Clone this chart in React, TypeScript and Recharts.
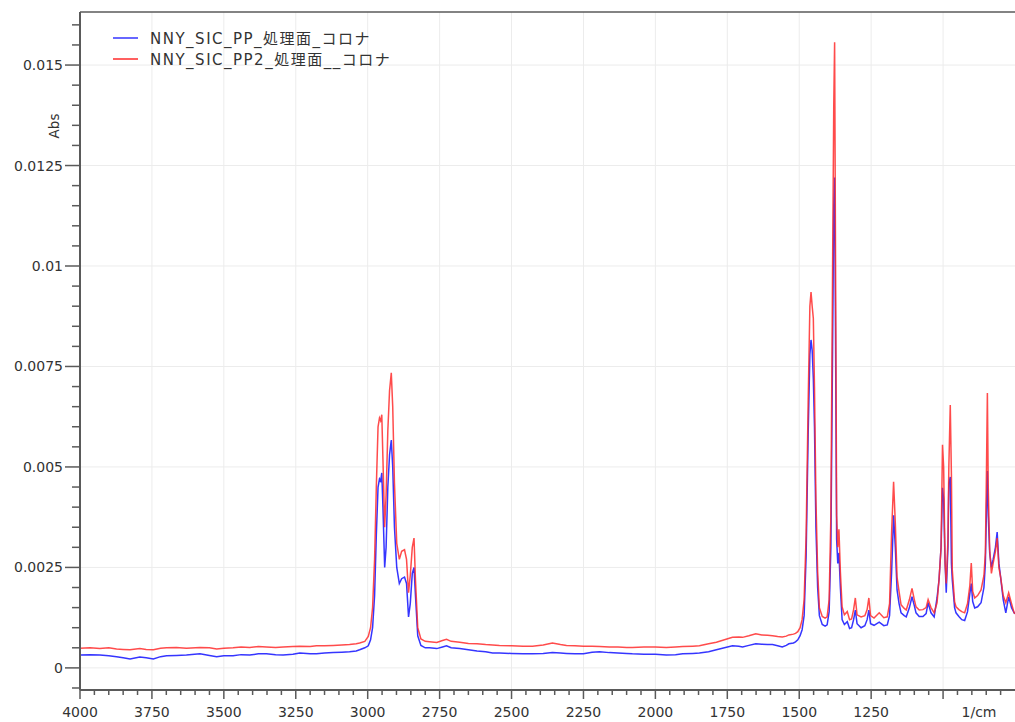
import { LineChart, Line, XAxis, YAxis, ReferenceLine, Legend } from "recharts";

const wavenumbers = [
  4000, 3965, 3931, 3900, 3873, 3850, 3826, 3792, 3770, 3745, 3720, 3699, 3665, 3630, 3583, 3550,
  3525, 3500, 3468, 3440, 3410, 3380, 3352, 3320, 3294, 3260, 3236, 3200, 3178, 3150, 3120, 3090,
  3063, 3040, 3028, 3010, 2998, 2990, 2983, 2976, 2970, 2964, 2959, 2955, 2951, 2947, 2941, 2936,
  2930, 2924, 2918, 2913, 2907, 2899, 2890, 2882, 2872, 2865, 2858, 2852, 2845, 2839, 2834, 2826,
  2815, 2800, 2785, 2760, 2740, 2726, 2710, 2680, 2650, 2620, 2590, 2566, 2542, 2500, 2460, 2427,
  2390, 2358, 2330, 2309, 2280, 2250, 2220, 2194, 2160, 2130, 2100, 2080, 2040, 2000, 1962, 1930,
  1905, 1870, 1847, 1815, 1788, 1760, 1732, 1710, 1697, 1675, 1651, 1630, 1610, 1593, 1575, 1559,
  1545, 1536, 1520, 1513, 1505, 1497, 1490, 1483, 1476, 1469, 1463, 1459, 1455, 1451, 1447, 1442,
  1436, 1430, 1420, 1410, 1403, 1396, 1390, 1384, 1380, 1377, 1374, 1370, 1366, 1362, 1357, 1351,
  1343, 1333, 1325, 1318, 1311, 1305, 1299, 1285, 1272, 1264, 1258, 1252, 1240, 1222, 1206, 1194,
  1186, 1179, 1172, 1166, 1160, 1153, 1146, 1135, 1128, 1117, 1108, 1100, 1094, 1083, 1070, 1059,
  1052, 1042, 1031, 1021, 1014, 1007, 1002, 998, 993, 989, 983, 980, 975, 971, 968, 960,
  955, 945, 935, 925, 915, 907, 902, 897, 890, 880, 868, 858, 853, 849, 846, 843,
  838, 832, 826, 818, 812, 806, 800, 791, 782, 772, 762, 753, 750,
];

// NNY_SIC_PP_処理面_コロナ (blue)
const ppAbs = [
  0.00032, 0.00033, 0.00032, 0.0003, 0.00028, 0.00025, 0.00022, 0.00027, 0.00025, 0.00022, 0.00028, 0.0003, 0.00031, 0.00032, 0.00035, 0.00031,
  0.00028, 0.0003, 0.0003, 0.00033, 0.00032, 0.00035, 0.00035, 0.00033, 0.00032, 0.00034, 0.00037, 0.00035, 0.00035, 0.00037, 0.00038, 0.00039,
  0.0004, 0.00042, 0.00045, 0.0005, 0.00055, 0.0007, 0.001, 0.0018, 0.0033, 0.0045, 0.0047, 0.00465, 0.00485, 0.004, 0.0025, 0.003,
  0.0045, 0.0053, 0.00567, 0.005, 0.0035, 0.0025, 0.0021, 0.00222, 0.00226, 0.0021, 0.00127, 0.0016, 0.00235, 0.0025, 0.0018, 0.0008,
  0.00056, 0.0005, 0.0005, 0.00048, 0.00052, 0.00055, 0.0005, 0.00048, 0.00045, 0.00042, 0.0004, 0.00037, 0.00037, 0.00036, 0.00035, 0.00035,
  0.00036, 0.00038, 0.00037, 0.00036, 0.00035, 0.00035, 0.00039, 0.0004, 0.00038, 0.00037, 0.00036, 0.00035, 0.00034, 0.00034, 0.00032, 0.00033,
  0.00035, 0.00036, 0.00037, 0.0004, 0.00045, 0.0005, 0.00055, 0.00054, 0.00052, 0.00056, 0.0006, 0.00059, 0.00058, 0.00058, 0.00055, 0.00052,
  0.00056, 0.0006, 0.00062, 0.00065, 0.0007, 0.0008, 0.00095, 0.0013, 0.0028, 0.0058, 0.0078, 0.00816, 0.0079, 0.0072, 0.006, 0.0035,
  0.002, 0.0013, 0.00108, 0.00104, 0.00107, 0.0014, 0.003, 0.008, 0.0115, 0.0122, 0.0085, 0.0032, 0.0026, 0.00286, 0.002, 0.0012,
  0.00108, 0.00115, 0.00098, 0.001, 0.0012, 0.00144, 0.0011, 0.001, 0.00105, 0.0012, 0.00144, 0.0011, 0.00106, 0.00114, 0.00105, 0.00107,
  0.0013, 0.00236, 0.0038, 0.003, 0.00194, 0.0016, 0.00137, 0.0013, 0.00127, 0.0015, 0.00177, 0.00155, 0.00137, 0.00128, 0.00128, 0.00135,
  0.00162, 0.00137, 0.00127, 0.00174, 0.0022, 0.003, 0.00448, 0.0042, 0.0026, 0.00187, 0.003, 0.0046, 0.00475, 0.0026, 0.00219, 0.0015,
  0.00137, 0.00128, 0.0012, 0.00118, 0.0014, 0.00185, 0.0021, 0.00165, 0.00149, 0.00152, 0.00162, 0.002, 0.0026, 0.004, 0.0049, 0.0038,
  0.00286, 0.0025, 0.0027, 0.003, 0.00338, 0.0026, 0.00226, 0.0017, 0.00137, 0.00177, 0.0015, 0.00137, 0.00135,
];

// NNY_SIC_PP2_処理面__コロナ (red)
const pp2Abs = [
  0.00049, 0.0005, 0.00048, 0.0005, 0.00047, 0.00046, 0.00045, 0.00048, 0.00046, 0.00045, 0.00049, 0.0005, 0.00051, 0.00049, 0.00051, 0.0005,
  0.00047, 0.00049, 0.0005, 0.00052, 0.00051, 0.00053, 0.00052, 0.00051, 0.00052, 0.00053, 0.00054, 0.00053, 0.00055, 0.00055, 0.00056, 0.00057,
  0.00058, 0.0006, 0.00062, 0.00066, 0.00078, 0.001, 0.0015, 0.0027, 0.0045, 0.006, 0.00622, 0.00615, 0.0063, 0.0052, 0.0035, 0.0043,
  0.0059, 0.0069, 0.00734, 0.0065, 0.0046, 0.0031, 0.0027, 0.0029, 0.00294, 0.0027, 0.00187, 0.0023, 0.003, 0.00323, 0.0022, 0.001,
  0.00072, 0.00066, 0.00065, 0.00063, 0.00068, 0.00071, 0.00066, 0.00064, 0.00061, 0.0006, 0.00058, 0.00057, 0.00056, 0.00055, 0.00054, 0.00054,
  0.00057, 0.00062, 0.00058, 0.00056, 0.00055, 0.00054, 0.00054, 0.00053, 0.00052, 0.00052, 0.00051, 0.00051, 0.00052, 0.00052, 0.00051, 0.00052,
  0.00053, 0.00054, 0.00055, 0.0006, 0.00064, 0.0007, 0.00076, 0.00077, 0.00076, 0.0008, 0.00085, 0.00082, 0.00081, 0.0008, 0.00078, 0.00077,
  0.00079, 0.00082, 0.00084, 0.00086, 0.0009, 0.001, 0.0012, 0.0017, 0.0033, 0.0066, 0.009, 0.00935, 0.009, 0.0087, 0.007, 0.0042,
  0.0024, 0.0015, 0.00128, 0.00124, 0.00127, 0.0017, 0.0038, 0.01, 0.014, 0.01557, 0.0105, 0.0038, 0.003, 0.00345, 0.0024, 0.00152,
  0.00132, 0.0014, 0.0012, 0.00122, 0.00145, 0.00174, 0.00132, 0.00127, 0.0013, 0.00145, 0.00174, 0.0013, 0.00124, 0.00137, 0.00125, 0.00127,
  0.0016, 0.00336, 0.00463, 0.0036, 0.00226, 0.0019, 0.00157, 0.00148, 0.00144, 0.0017, 0.00198, 0.0017, 0.00152, 0.00144, 0.00145, 0.0015,
  0.0017, 0.0015, 0.00137, 0.00162, 0.0022, 0.003, 0.00555, 0.005, 0.0026, 0.0021, 0.0032, 0.005, 0.00654, 0.0048, 0.00244, 0.00165,
  0.00152, 0.00145, 0.0014, 0.00137, 0.0016, 0.00205, 0.00261, 0.0019, 0.00174, 0.0018, 0.00194, 0.0023, 0.00286, 0.005, 0.00684, 0.0045,
  0.00294, 0.00235, 0.0026, 0.0029, 0.00323, 0.0025, 0.00226, 0.0018, 0.00162, 0.00187, 0.0016, 0.00137, 0.00135,
];

const seriesNames = ["NNY_SIC_PP_処理面_コロナ", "NNY_SIC_PP2_処理面__コロナ"];
const seriesColors = ["#3535ff", "#ff2b2b"];

const xMajorTicks = [4000, 3750, 3500, 3250, 3000, 2750, 2500, 2250, 2000, 1750, 1500, 1250, 1000];
const xTickLabels = ["4000", "3750", "3500", "3250", "3000", "2750", "2500", "2250", "2000", "1750", "1500", "1250", ""];
const yMajorTicks = [0, 0.0025, 0.005, 0.0075, 0.01, 0.0125, 0.015];
const yTickLabels = ["0", "0.0025", "0.005", "0.0075", "0.01", "0.0125", "0.015"];

const xDomain = [750, 4000];
const yDomain = [-0.00055, 0.01632];

// minor ticks every 50 1/cm and every 0.0005 Abs
const xTicks = Array.from({ length: 65 }, (_, i) => 4000 - i * 50);
const yTicks = Array.from({ length: 34 }, (_, i) => Math.round((i - 1) * 5) / 10000);

const spectrum = wavenumbers.map((wn, i) => ({ wn, pp: ppAbs[i], pp2: pp2Abs[i] }));

const FONT = "'DejaVu Sans', 'Noto Sans CJK JP', sans-serif";
const AXIS = "#5a5a5a";
const GRID = "#ececec";

const XTick = ({ x, y, payload }: any) => {
  const idx = xMajorTicks.indexOf(payload.value);
  const major = idx >= 0;
  return (
    <g>
      <line x1={x} y1={y} x2={x} y2={y + (major ? 9 : 5)} stroke={AXIS} strokeWidth={1.5} />
      {major && xTickLabels[idx] && (
        <text x={x} y={y + 27} textAnchor="middle" fontSize={14} fontFamily={FONT} fill="#333">
          {xTickLabels[idx]}
        </text>
      )}
    </g>
  );
};

const YTick = ({ x, y, payload }: any) => {
  const idx = yMajorTicks.findIndex((v) => Math.abs(v - payload.value) < 1e-7);
  const major = idx >= 0;
  return (
    <g>
      <line x1={x} y1={y} x2={x - (major ? 15 : 8)} y2={y} stroke={AXIS} strokeWidth={1.5} />
      {major && (
        <text x={x - 17} y={y + 5} textAnchor="end" fontSize={14} fontFamily={FONT} fill="#333">
          {yTickLabels[idx]}
        </text>
      )}
    </g>
  );
};

const renderLegend = () => (
  <div style={{ fontFamily: FONT, fontSize: 15, letterSpacing: 1.5, color: "#333" }}>
    {seriesNames.map((name, i) => (
      <div key={name} style={{ display: "flex", alignItems: "center", height: 21, whiteSpace: "nowrap" }}>
        <svg width={40} height={10}>
          <line x1={3} y1={5} x2={28} y2={5} stroke={seriesColors[i]} strokeWidth={1.5} />
        </svg>
        <span>{name}</span>
      </div>
    ))}
  </div>
);

export default function App() {
  return (
    <div style={{ position: "absolute", left: 0, top: 0, background: "#fff" }}>
      <LineChart width={1015} height={722} data={spectrum} margin={{ top: 12, right: 0, left: 0, bottom: 0 }}>
        {yMajorTicks.map((v) => (
          <ReferenceLine key={`gy${v}`} y={v} stroke={GRID} strokeWidth={1} />
        ))}
        {xMajorTicks.slice(1).map((v) => (
          <ReferenceLine key={`gx${v}`} x={v} stroke={GRID} strokeWidth={1} />
        ))}
        <ReferenceLine y={yDomain[1]} stroke={AXIS} strokeWidth={1.5} />
        <XAxis
          dataKey="wn"
          type="number"
          domain={xDomain}
          reversed
          allowDataOverflow
          ticks={xTicks}
          interval={0}
          tick={<XTick />}
          tickLine={false}
          tickSize={0}
          tickMargin={0}
          height={32}
          axisLine={{ stroke: AXIS, strokeWidth: 2 }}
          label={{
            content: ({ viewBox }: any) => (
              <text
                x={viewBox.x + viewBox.width - 36}
                y={viewBox.y + 27}
                textAnchor="middle"
                fontSize={14}
                fontFamily={FONT}
                fill="#333"
              >
                1/cm
              </text>
            ),
          }}
        />
        <YAxis
          type="number"
          domain={yDomain}
          allowDataOverflow
          ticks={yTicks}
          interval={0}
          tick={<YTick />}
          tickLine={false}
          tickSize={0}
          tickMargin={0}
          width={80}
          axisLine={{ stroke: AXIS, strokeWidth: 2 }}
          label={{
            content: ({ viewBox }: any) => (
              <text
                x={viewBox.x + 59}
                y={viewBox.y + 114}
                transform={`rotate(-90 ${viewBox.x + 59} ${viewBox.y + 114})`}
                textAnchor="middle"
                fontSize={13.5}
                fontFamily={FONT}
                fill="#333"
              >
                Abs
              </text>
            ),
          }}
        />
        <Legend
          content={renderLegend}
          layout="vertical"
          align="center"
          verticalAlign="middle"
          wrapperStyle={{ left: 110, top: 27, width: "auto", height: "auto" }}
        />
        <Line
          type="linear"
          dataKey="pp"
          name={seriesNames[0]}
          stroke={seriesColors[0]}
          strokeWidth={1.5}
          dot={false}
          isAnimationActive={false}
        />
        <Line
          type="linear"
          dataKey="pp2"
          name={seriesNames[1]}
          stroke={seriesColors[1]}
          strokeWidth={1.5}
          strokeOpacity={0.85}
          dot={false}
          isAnimationActive={false}
        />
      </LineChart>
    </div>
  );
}
